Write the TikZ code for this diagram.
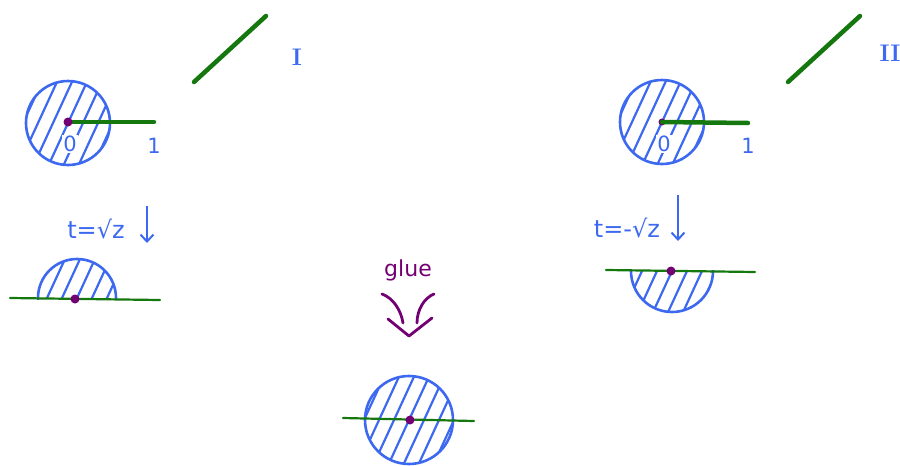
\documentclass[tikz,border=0pt]{standalone}
\usepackage{fontspec}
\newfontfamily\handfont{DejaVu Sans}
\usetikzlibrary{arrows.meta}
\definecolor{hblue}{RGB}{60,105,240}
\definecolor{hgreen}{RGB}{20,120,15}
\definecolor{hpurple}{RGB}{115,0,115}
\tikzset{
 outline/.style={draw=hblue, line width=2.6pt},
 hatch/.style={hblue, line width=2.2pt, line cap=round},
 thickgreen/.style={hgreen, line width=4.5pt, line cap=round},
 thingreen/.style={hgreen, line width=2.2pt, line cap=round},
 dotmark/.style={circle, fill=hpurple, inner sep=0pt, minimum size=9pt},
 bluelabel/.style={text=hblue, font=\handfont\fontsize{21}{24}\selectfont, inner sep=0pt},
 maplabel/.style={text=hblue, font=\handfont\fontsize{24}{28}\selectfont, inner sep=0pt},
 romanlabel/.style={text=hblue, font=\fontsize{24}{28}\selectfont\bfseries, inner sep=0pt},
 gluelabel/.style={text=hpurple, font=\handfont\fontsize{22}{26}\selectfont, inner sep=0pt},
 downarrow/.style={hblue, line width=2pt, -{Straight Barb[length=7pt,width=13pt]}},
 gluestroke/.style={hpurple, line width=2.8pt, line cap=round, line join=round},
}
\newcommand\hatchlines[2]{%
 \foreach \k in {-5,...,5}{\draw[hatch] ({#1+\k*15-30},{#2+65}) -- ({#1+\k*15+30},{#2-65});}%
}
\begin{document}
\begin{tikzpicture}[x=1pt,y=-1pt]
\useasboundingbox (0,0) rectangle (900,466);

% ---------- left top disk ----------
\begin{scope}
\clip (68,123) circle[radius=42pt];
\hatchlines{68}{123}
\end{scope}
\draw[outline] (68,123) circle[radius=42pt];
\coordinate (o1) at (68,122);
\coordinate (e1) at (154,122);
\draw[thickgreen] (o1) -- (e1);
\node[dotmark] (d1) at (o1) {};
\node[bluelabel, fill=white, inner sep=1pt] (z1) at (70,144) {0};
\node[bluelabel] (u1) at (154,146) {1};
\coordinate (g1a) at (194,82);
\coordinate (g1b) at (266,16);
\draw[thickgreen] (g1a) -- (g1b);
\node[romanlabel] (r1) at (297,57) {I};

% map arrow left
\node[maplabel] (m1) at (96,229) {t=√z};
\coordinate (a1s) at (147,206);
\coordinate (a1e) at (147,243);
\draw[downarrow] (a1s) -- (a1e);

% upper half disk
\begin{scope}
\clip (77,298) circle[radius=39pt];
\clip (30,250) rectangle (125,298);
\hatchlines{77}{298}
\end{scope}
\begin{scope}
\clip (30,250) rectangle (125,299);
\draw[outline] (77,298) circle[radius=39pt];
\end{scope}
\coordinate (h1a) at (10,298);
\coordinate (h1b) at (160,300);
\draw[thingreen] (h1a) -- (h1b);
\node[dotmark] (d2) at (75,299) {};

% ---------- glue ----------
\node[gluelabel] (glue) at (408,270) {glue};
\coordinate (gl) at (382,294);
\coordinate (gr) at (434,294);
\coordinate (gt) at (409,336);
\coordinate (gbl) at (388,319);
\coordinate (gbr) at (432,318);
\draw[gluestroke] (gl) .. controls (393,298) and (401,310) .. (403,323);
\draw[gluestroke] (gr) .. controls (424,298) and (417,310) .. (417,323);
\draw[gluestroke] (gbl) -- (gt) -- (gbr);

% bottom disk
\begin{scope}
\clip (409,420) circle[radius=44pt];
\hatchlines{409}{420}
\end{scope}
\draw[outline] (409,420) circle[radius=44pt];
\coordinate (b1a) at (343,418);
\coordinate (b1b) at (474,421);
\draw[thingreen] (b1a) -- (b1b);
\node[dotmark] (d3) at (410,420) {};

% ---------- right top disk ----------
\begin{scope}
\clip (662,122) circle[radius=42pt];
\hatchlines{662}{122}
\end{scope}
\draw[outline] (662,122) circle[radius=42pt];
\coordinate (o2) at (662,122);
\coordinate (e2) at (748,123);
\node[dotmark, minimum size=7pt] (d4) at (o2) {};
\draw[thickgreen] (o2) -- (e2);
\node[bluelabel, fill=white, inner sep=1pt] (z2) at (664,144) {0};
\node[bluelabel] (u2) at (748,146) {1};
\coordinate (g2a) at (788,82);
\coordinate (g2b) at (860,16);
\draw[thickgreen] (g2a) -- (g2b);
\node[romanlabel] (r2) at (890,53) {II};

% map arrow right
\node[maplabel] (m2) at (627,228) {t=-√z};
\coordinate (a2s) at (678,195);
\coordinate (a2e) at (678,241);
\draw[downarrow] (a2s) -- (a2e);

% lower half disk
\begin{scope}
\clip (672,271) circle[radius=41pt];
\clip (620,271) rectangle (725,320);
\hatchlines{672}{271}
\end{scope}
\begin{scope}
\clip (620,270) rectangle (725,320);
\draw[outline] (672,271) circle[radius=41pt];
\end{scope}
\coordinate (h2a) at (606,270);
\coordinate (h2b) at (755,272);
\draw[thingreen] (h2a) -- (h2b);
\node[dotmark] (d5) at (671,271) {};
\end{tikzpicture}
\end{document}
